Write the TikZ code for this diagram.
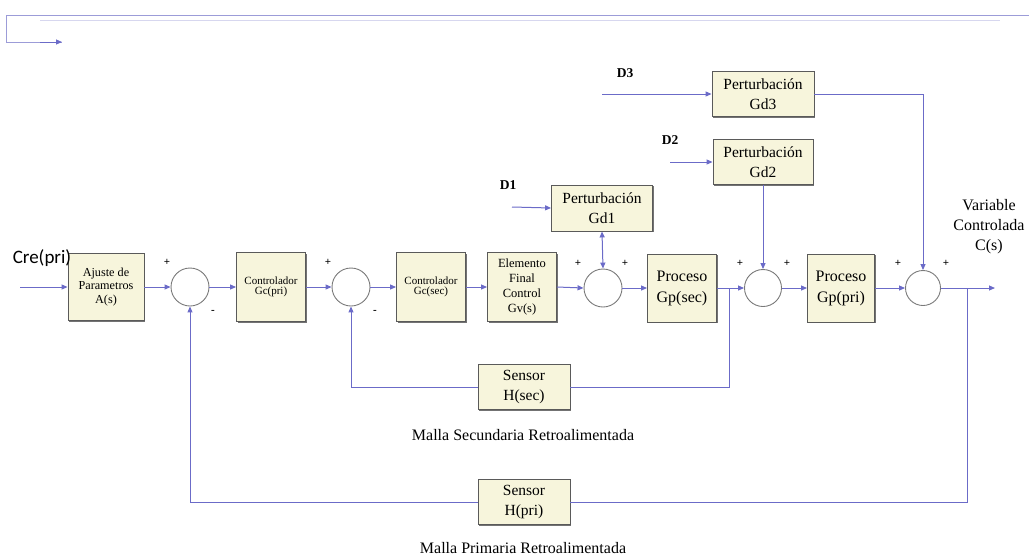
\documentclass[tikz,border=0pt]{standalone}
\usepackage{fontspec}
\setmainfont{Liberation Serif}
\newfontfamily\crefont{Carlito}
\usetikzlibrary{arrows.meta,shadows}
\definecolor{linec}{HTML}{6B6BC8}
\definecolor{toplinec}{HTML}{9C9CD8}
\definecolor{boxfill}{HTML}{F7F5DC}
\definecolor{boxdraw}{HTML}{5A5A5A}
\definecolor{circdraw}{HTML}{7A7A7A}
\newcommand{\fsz}[2]{\fontsize{#1}{#2}\selectfont}
\tikzset{
  x=1pt, y=-1pt,
  blk/.style={draw=boxdraw, fill=boxfill, line width=0.9pt, inner sep=0pt, align=center,
    drop shadow={shadow xshift=1.3pt, shadow yshift=-1.3pt, fill=black!55, opacity=1}},
  sumc/.style={circle, draw=circdraw, fill=white, line width=0.9pt, inner sep=0pt},
  conn/.style={draw=linec, line width=1pt},
  arr/.style={conn, -{Triangle[length=6pt,width=5pt]}},
  sgn/.style={inner sep=0pt, font=\bfseries\fsz{11}{12}},
  lbl/.style={inner sep=0pt, align=center}
}
\begin{document}
\begin{tikzpicture}
\useasboundingbox (0,0) rectangle (1029,555);
\fill[white] (0,0) rectangle (1029,555);

% top-left decoration
\coordinate (t0) at (1029,15);
\coordinate (t1) at (6,15);
\coordinate (t2) at (62,42);
\draw[draw=toplinec, line width=1pt] (t0) -- (t1) |- (t2);
\draw[draw=toplinec!40, line width=0.8pt] (40,20) -- (1000,20);
\draw[arr] (40,42) -- (t2);

% blocks
\node[blk, minimum width=76pt, minimum height=67pt, font=\fsz{12.2}{13.5}] (aj) at (106,287) {Ajuste de\\Parametros\\A(s)};
\node[sumc, minimum size=38pt] (s1) at (190,287) {};
\node[blk, minimum width=69pt, minimum height=69pt, font=\fsz{11}{10.5}] (gcp) at (271,287) {Controlador\\Gc(pri)};
\node[sumc, minimum size=38pt] (s2) at (351,287) {};
\node[blk, minimum width=69pt, minimum height=69pt, font=\fsz{11}{10.5}] (gcs) at (431,287) {Controlador\\Gc(sec)};
\node[blk, minimum width=69pt, minimum height=69pt, font=\fsz{12.5}{15}] (gv) at (522,287) {Elemento\\Final\\Control\\Gv(s)};
\node[sumc, minimum size=38pt] (s3) at (603,288) {};
\node[blk, minimum width=101pt, minimum height=46pt, font=\fsz{15.5}{20}] (gd1) at (602,208) {Perturbación\\Gd1};
\node[blk, minimum width=69pt, minimum height=68pt, font=\fsz{16}{21}] (gps) at (682,288) {Proceso\\Gp(sec)};
\node[sumc, minimum size=37pt] (s4) at (763,288) {};
\node[blk, minimum width=100pt, minimum height=45pt, font=\fsz{15.5}{20}] (gd2) at (763,162) {Perturbación\\Gd2};
\node[blk, minimum width=67pt, minimum height=68pt, font=\fsz{16}{21}] (gpp) at (841,288) {Proceso\\Gp(pri)};
\node[sumc, minimum size=35pt] (s5) at (923,288) {};
\node[blk, minimum width=102pt, minimum height=45pt, font=\fsz{15.5}{20}] (gd3) at (763,94) {Perturbación\\Gd3};
\node[blk, minimum width=92pt, minimum height=45pt, font=\fsz{15.5}{20}] (hs) at (524,387) {Sensor\\H(sec)};
\node[blk, minimum width=92pt, minimum height=45pt, font=\fsz{15.5}{20}] (hp) at (524,502) {Sensor\\H(pri)};

% labels
\node[lbl, font=\crefont\fsz{19}{22}] (cre) at (42,258) {Cre(pri)};
\node[lbl, font=\bfseries\fsz{13.5}{14}] (d1) at (508,185) {D1};
\node[lbl, font=\bfseries\fsz{13.5}{14}] (d2) at (670,140) {D2};
\node[lbl, font=\bfseries\fsz{13.5}{14}] (d3) at (625,73) {D3};
\node[lbl, font=\fsz{16}{20}] (vc) at (989,227) {Variable\\Controlada\\C(s)};
\node[lbl, font=\fsz{16}{15}] (ms) at (523,435) {Malla Secundaria Retroalimentada};
\node[lbl, font=\fsz{16}{15}] (mp) at (523,548) {Malla Primaria Retroalimentada};

% signs
\node[sgn] (p1) at (167,262) {+};
\node[sgn] (m1) at (213,312) {-};
\node[sgn] (p2) at (328,262) {+};
\node[sgn] (m2) at (375,312) {-};
\node[sgn] (p3a) at (578,263) {+};
\node[sgn] (p3b) at (625,263) {+};
\node[sgn] (p4a) at (740,263) {+};
\node[sgn] (p4b) at (787,263) {+};
\node[sgn] (p5a) at (898,263) {+};
\node[sgn] (p5b) at (946,263) {+};

% coordinates
\coordinate (in) at (20,287);
\coordinate (out) at (995,288);
\coordinate (b2) at (729,288);
\coordinate (b5) at (967,288);
\coordinate (x1) at (512,207);
\coordinate (x2) at (670,162);
\coordinate (x3) at (602,94);

% forward path
\draw[arr] (in) -- (aj.west);
\draw[arr] (aj.east) -- (s1.west);
\draw[arr] (s1.east) -- (gcp.west);
\draw[arr] (gcp.east) -- (s2.west);
\draw[arr] (s2.east) -- (gcs.west);
\draw[arr] (gcs.east) -- (gv.west);
\draw[arr] (gv.east) -- (s3.west);
\draw[arr] (s3.east) -- (gps.west);
\draw[arr] (gps.east) -- (s4.west);
\draw[arr] (s4.east) -- (gpp.west);
\draw[arr] (gpp.east) -- (s5.west);
\draw[arr] (s5.east) -- (out);

% disturbances
\draw[arr] (x1) -- (gd1.west);
\draw[arr] (x2) -- (gd2.west);
\draw[arr] (x3) -- (gd3.west);
\draw[conn, {Triangle[length=6pt,width=5pt]}-{Triangle[length=6pt,width=5pt]}] (gd1.south) -- (s3.north);
\draw[arr] (gd2.south) -- (s4.north);
\draw[arr] (gd3.east) -| (s5.north);

% feedback loops
\draw[conn] (b2) |- (hs.east);
\draw[arr] (hs.west) -| (s2.south);
\draw[conn] (b5) |- (hp.east);
\draw[arr] (hp.west) -| (s1.south);
\end{tikzpicture}
\end{document}
